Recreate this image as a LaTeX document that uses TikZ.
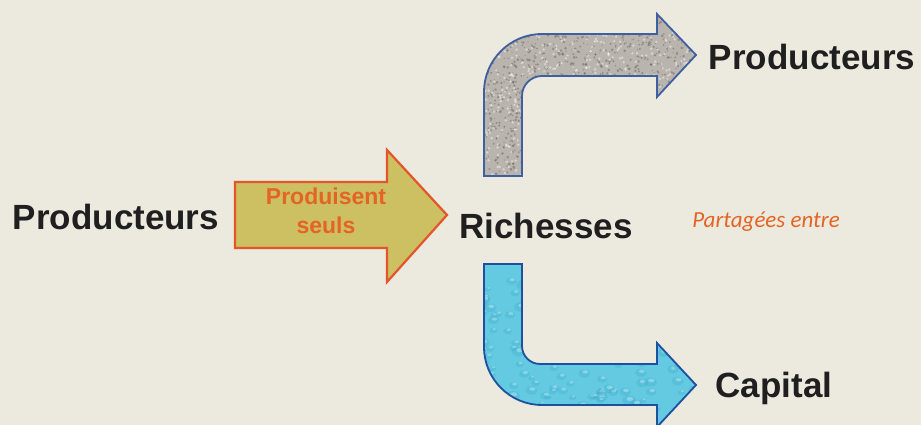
\documentclass[tikz,border=0pt]{standalone}
\usepackage{fontspec}
\setmainfont{Liberation Sans}
\newfontfamily\calib{Carlito}
\definecolor{bgpaper}{RGB}{236,233,222}
\definecolor{olivefill}{RGB}{205,192,98}
\definecolor{orangeline}{RGB}{226,86,42}
\definecolor{orangetext}{RGB}{228,100,36}
\definecolor{greyfill}{RGB}{186,180,174}
\definecolor{greyline}{RGB}{62,96,160}
\definecolor{cyanfill}{RGB}{100,202,226}
\definecolor{cyanline}{RGB}{30,80,160}
\definecolor{speck}{RGB}{90,80,76}
\definecolor{bubble}{RGB}{60,170,205}
\tikzset{
  bigword/.style={font=\bfseries\fontsize{35}{40}\selectfont, text=black!88, inner sep=0pt},
  arrowtext/.style={font=\bfseries\fontsize{23}{29}\selectfont, text=orangetext, align=center, inner sep=0pt},
  note/.style={font=\calib\itshape\fontsize{23}{27}\selectfont, text=orangetext, inner sep=0pt},
}
\begin{document}
\begin{tikzpicture}[x=1pt,y=1pt]
\fill[bgpaper] (0,0) rectangle (921,425);
\useasboundingbox (0,0) rectangle (921,425);

% middle straight arrow
\filldraw[fill=olivefill, draw=orangeline, line width=2.2pt, line join=miter]
  (235,177) -- (235,243) -- (387,243) -- (387,275) -- (447,210)
  -- (387,143) -- (387,177) -- cycle;

% top bent arrow
\def\toparrow{(484,249) -- (484,333) arc[start angle=180, end angle=90, radius=58]
  -- (657,391) -- (657,411) -- (696,370) -- (657,328) -- (657,349) -- (542,349)
  arc[start angle=90, end angle=180, radius=20] -- (522,249) -- cycle}
\fill[greyfill] \toparrow;
\begin{scope}
  \clip \toparrow;
  \pgfmathsetseed{7}
  \foreach \i in {1,...,1600}{
    \pgfmathsetmacro{\px}{480+220*random()}
    \pgfmathsetmacro{\py}{245+170*random()}
    \pgfmathsetmacro{\pr}{0.5+1.0*random()}
    \fill[speck, opacity=0.4] (\px,\py) circle[radius=\pr];
  }
  \foreach \i in {1,...,700}{
    \pgfmathsetmacro{\px}{480+220*random()}
    \pgfmathsetmacro{\py}{245+170*random()}
    \fill[white, opacity=0.45] (\px,\py) circle[radius=1.3];
  }
\end{scope}
\draw[greyline, line width=1.8pt, line join=miter] \toparrow;

% bottom bent arrow
\def\botarrow{(484,161) -- (484,78) arc[start angle=180, end angle=270, radius=58]
  -- (657,20) -- (657,-2) -- (696,40) -- (657,82) -- (657,61) -- (540,61)
  arc[start angle=270, end angle=180, radius=18] -- (522,161) -- cycle}
\fill[cyanfill] \botarrow;
\begin{scope}
  \clip \botarrow;
  \pgfmathsetseed{11}
  \foreach \i in {1,...,220}{
    \pgfmathsetmacro{\px}{480+220*random()}
    \pgfmathsetmacro{\py}{-5+170*random()}
    \pgfmathsetmacro{\pr}{3+4*random()}
    \fill[bubble, opacity=0.3] (\px,\py) ellipse[x radius=\pr, y radius=0.7*\pr];
    \fill[white, opacity=0.3] (\px+1,\py+1.5) ellipse[x radius=0.5*\pr, y radius=0.3*\pr];
  }
\end{scope}
\draw[cyanline, line width=1.8pt, line join=miter] \botarrow;

% texts
\node[bigword] (prodL) at (116,208) {Producteurs};
\node[arrowtext] (seuls) at (326,214) {Produisent\\seuls};
\node[bigword] (rich) at (546,199) {Richesses};
\node[note] (part) at (766,203) {Partagées entre};
\node[bigword] (prodR) at (812,368) {Producteurs};
\node[bigword] (cap) at (774,37) {Capital};
\end{tikzpicture}
\end{document}
